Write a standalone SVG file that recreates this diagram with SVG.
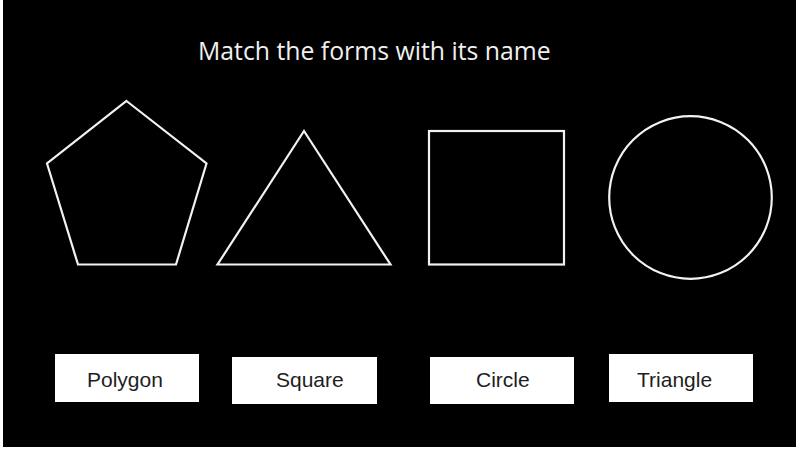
<svg xmlns="http://www.w3.org/2000/svg" width="798" height="450" viewBox="0 0 798 450">
<style>
.shape{fill:none;stroke:#f2f2f2;stroke-width:2.2;stroke-linejoin:miter}
.box{fill:#ffffff}
.lbl{font-family:"Liberation Sans",Arial,sans-serif;font-size:21px;fill:#1e1e1e}
.title{font-family:"Open Sans","Noto Sans",sans-serif;font-size:24.8px;fill:#f0f0f0}
</style>
<rect x="0" y="0" width="798" height="450" fill="#ffffff"/>
<rect x="3" y="0" width="793" height="447" fill="#000000"/>
<text class="title" x="198" y="60">Match the forms with its name</text>
<g id="pentagon"><polygon class="shape" points="126.5,101 206.5,163.5 176,264.5 78,264.5 47,163.5"/></g>
<g id="triangle"><polygon class="shape" points="304,131 390.5,264.5 217.5,264.5"/></g>
<g id="square"><rect class="shape" x="429" y="131" width="135" height="133.5"/></g>
<g id="circle"><circle class="shape" cx="690.5" cy="197.5" r="81.3"/></g>
<g id="label-polygon"><rect class="box" x="55" y="354" width="144" height="48"/><text class="lbl" x="87" y="386.5">Polygon</text></g>
<g id="label-square"><rect class="box" x="232" y="357" width="145" height="47"/><text class="lbl" x="276" y="386.5">Square</text></g>
<g id="label-circle"><rect class="box" x="430" y="357" width="144" height="47"/><text class="lbl" x="476" y="386.5">Circle</text></g>
<g id="label-triangle"><rect class="box" x="609" y="354" width="144" height="48"/><text class="lbl" x="637" y="386.5">Triangle</text></g>
<g id="connectors"></g>
</svg>
